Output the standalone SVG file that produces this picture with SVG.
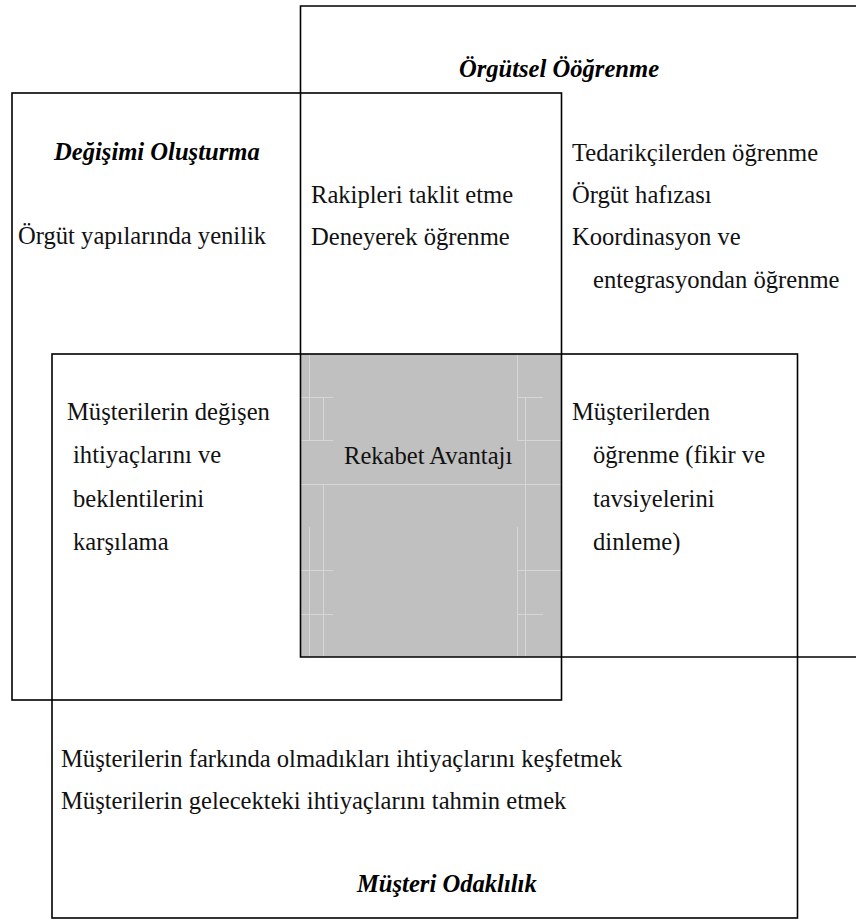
<svg xmlns="http://www.w3.org/2000/svg" width="856" height="920" viewBox="0 0 856 920">
<style>
.box{fill:none;stroke:#000;stroke-width:1.6}
.t{font-family:"Liberation Serif","Times New Roman",serif;font-size:24.6px;fill:#111}
.h{font-family:"Liberation Serif","Times New Roman",serif;font-size:24.6px;font-weight:bold;font-style:italic;fill:#000}
.f{stroke:#d6d6d6;stroke-width:1;fill:none}
</style>
<rect width="856" height="920" fill="#fff"/>
<g id="core">
<rect x="301" y="354" width="260" height="303" fill="#c0c0c0"/>
<path class="f" d="M309.5 354V441M309.5 527V657M323.5 397V441M323.5 484V657M517.5 354V441M517.5 527V657M525.5 397V657M301 484.5H561M301 397.5H333M517 397.5H543M301 440.5H333M517 440.5H561M301 570.5H333M517 570.5H561M301 614.5H333M517 614.5H543"/>
<text class="t" x="344" y="464">Rekabet Avantajı</text>
</g>
<g id="orgutsel-ogrenme">
<path class="box" d="M857 6H300.5V657H857"/>
<text class="h" x="559" y="77" text-anchor="middle">Örgütsel Ööğrenme</text>
<text class="t" x="572" y="161">Tedarikçilerden öğrenme</text>
<text class="t" x="572" y="203">Örgüt hafızası</text>
<text class="t" x="572" y="245">Koordinasyon ve</text>
<text class="t" x="593" y="288">entegrasyondan öğrenme</text>
<text class="t" x="572" y="420">Müşterilerden</text>
<text class="t" x="593" y="463">öğrenme (fikir ve</text>
<text class="t" x="593" y="507">tavsiyelerini</text>
<text class="t" x="593" y="550">dinleme)</text>
</g>
<g id="degisimi-olusturma">
<rect class="box" x="12" y="93" width="549.5" height="607"/>
<text class="h" x="54" y="160">Değişimi Oluşturma</text>
<text class="t" x="18" y="244">Örgüt yapılarında yenilik</text>
<text class="t" x="311" y="203">Rakipleri taklit etme</text>
<text class="t" x="311" y="245">Deneyerek öğrenme</text>
</g>
<g id="musteri-odaklilik">
<rect class="box" x="52" y="354" width="745.5" height="564"/>
<text class="t" x="67" y="420">Müşterilerin değişen</text>
<text class="t" x="73" y="463">ihtiyaçlarını ve</text>
<text class="t" x="73" y="507">beklentilerini</text>
<text class="t" x="73" y="550">karşılama</text>
<text class="t" x="61" y="767">Müşterilerin farkında olmadıkları ihtiyaçlarını keşfetmek</text>
<text class="t" x="61" y="809">Müşterilerin gelecekteki ihtiyaçlarını tahmin etmek</text>
<text class="h" x="357" y="892">Müşteri Odaklılık</text>
</g>
<g id="connectors"></g>
</svg>
